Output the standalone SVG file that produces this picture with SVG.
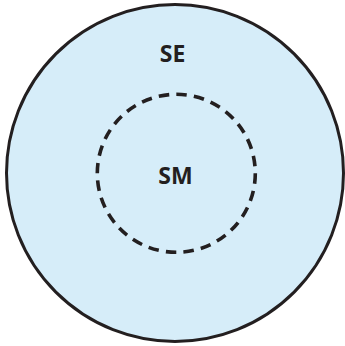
<svg xmlns="http://www.w3.org/2000/svg" width="345" height="346" viewBox="0 0 345 346">
<style>
.lbl{font-family:"Open Sans","Liberation Sans",sans-serif;font-weight:bold;font-size:23px;fill:#231f20;text-anchor:middle}
</style>
<rect width="345" height="346" fill="#ffffff"/>
<g id="SE">
<circle cx="175" cy="173" r="168.5" fill="#d6edf9" stroke="#231f20" stroke-width="3"/>
<text class="lbl" x="172.5" y="61.5">SE</text>
</g>
<g id="SM">
<circle cx="176.3" cy="173.3" r="79" fill="none" stroke="#231f20" stroke-width="3.6" stroke-dasharray="10.5 7.2"/>
<text class="lbl" x="175.5" y="183.5">SM</text>
</g>
<g id="connectors"/>
</svg>
